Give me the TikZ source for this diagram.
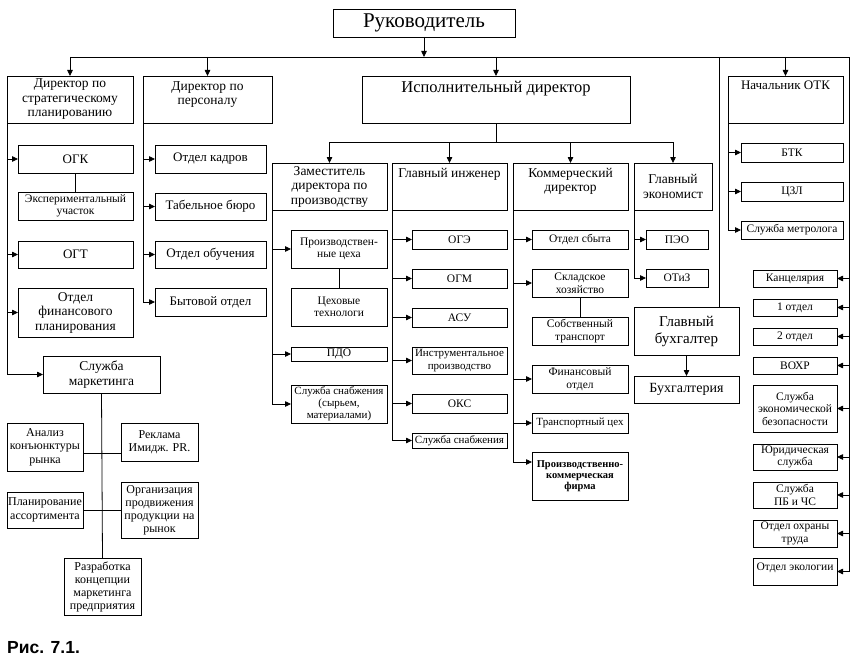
\documentclass[tikz,border=0pt]{standalone}
\usepackage{fontspec}
\setmainfont{Liberation Serif}
\newfontfamily\capfont{Liberation Sans}
\usetikzlibrary{arrows.meta}

\begin{document}
\begin{tikzpicture}[x=1pt, y=-1pt,
        box/.style={draw, line width=0.8pt, anchor=north west, inner sep=1pt, outer sep=0pt, align=center, font=\fontsize{13}{15}\selectfont},
        sz/.style 2 args={minimum width=#1pt, minimum height=#2pt},
        big/.style={font=\fontsize{13.5}{14.5}\selectfont},
        small/.style={font=\fontsize{11.5}{12.5}\selectfont},
        hdr/.style 2 args={label={[anchor=north, inner sep=5pt, align=center, font=#1]north:#2}},
        conn/.style={line width=0.8pt},
        arr/.style={line width=0.8pt, -{Triangle[length=6pt, width=5.5pt]}}
    ]
        \fill[white] (0,0) rectangle (857,661);
        \useasboundingbox (0,0) rectangle (857,661);
        % top level
        \node[box, sz={182}{28}, font=\fontsize{21}{23}\selectfont] (ruk) at (333,9) {Руководитель};
        \node[box, big, sz={126}{47}] (strat) at (7,76) {Директор по\\стратегическому\\планированию};
        \node[box, sz={129}{47}, hdr={\fontsize{13.5}{14.5}\selectfont}{Директор по\\персоналу}] (pers) at (143,76) {};
        \node[box, sz={268}{47}, hdr={\fontsize{16.5}{18}\selectfont}{Исполнительный директор}] (ispol) at (362,76) {};
        \node[box, sz={115}{47}, hdr={\fontsize{13}{14}\selectfont}{Начальник ОТК}] (otk) at (728,76) {};
        % strategy
        \node[box, sz={115}{28}] (ogk) at (18,145) {ОГК};
        \node[box, small, sz={115}{28}] (eksp) at (18,192) {Экспериментальный\\участок};
        \node[box, sz={115}{27}] (ogt) at (18,241) {ОГТ};
        \node[box, big, sz={115}{49}] (finpl) at (18,288) {Отдел\\финансового\\планирования};
        % personnel
        \node[box, sz={111}{28}] (kadr) at (155,145) {Отдел кадров};
        \node[box, sz={111}{27}] (tab) at (155,193) {Табельное бюро};
        \node[box, sz={111}{27}] (obuch) at (155,241) {Отдел обучения};
        \node[box, sz={111}{28}] (byt) at (155,288) {Бытовой отдел};
        % executive director
        \node[box, big, sz={115}{47}] (zam) at (272,163) {Заместитель\\директора по\\производству};
        \node[box, sz={115}{47}, hdr={\fontsize{13.5}{14.5}\selectfont}{Главный инженер}] (glin) at (392,163) {};
        \node[box, sz={115}{47}, hdr={\fontsize{13.5}{14.5}\selectfont}{Коммерческий\\директор}] (kom) at (513,163) {};
        \node[box, big, sz={78}{47}] (glek) at (634,163) {Главный\\экономист};
        \node[box, small, sz={96}{38}] (prc) at (291,230) {Производствен-\\ные цеха};
        \node[box, small, sz={96}{38}] (cehtech) at (291,288) {Цеховые\\технологи};
        \node[box, small, sz={96}{14}] (pdo) at (291,347) {ПДО};
        \node[box, sz={96}{38}, font=\fontsize{11}{12}\selectfont] (snab1) at (291,385) {Служба снабжения\\(сырьем,\\материалами)};
        \node[box, small, sz={95}{19}] (oge) at (412,230) {ОГЭ};
        \node[box, small, sz={95}{19}] (ogm) at (412,269) {ОГМ};
        \node[box, small, sz={95}{19}] (asu) at (412,308) {АСУ};
        \node[box, sz={95}{27}, font=\fontsize{11}{12.5}\selectfont] (instr) at (412,347) {Инструментальное\\производство};
        \node[box, small, sz={95}{19}] (oks) at (412,394) {ОКС};
        \node[box, sz={95}{15}, font=\fontsize{11}{12}\selectfont] (snab2) at (412,433) {Служба снабжения};
        \node[box, small, sz={96}{19}] (sbyt) at (532,230) {Отдел сбыта};
        \node[box, small, sz={96}{28}] (sklad) at (532,269) {Складское\\хозяйство};
        \node[box, small, sz={96}{28}] (transp) at (532,317) {Собственный\\транспорт};
        \node[box, small, sz={96}{28}] (fin) at (532,365) {Финансовый\\отдел};
        \node[box, sz={96}{20}, font=\fontsize{11}{12}\selectfont] (trceh) at (532,413) {Транспортный цех};
        \node[box, sz={96}{48}, font=\bfseries\fontsize{10.5}{11}\selectfont] (pkf) at (532,452) {Производственно-\\коммерческая\\фирма};
        \node[box, small, sz={62}{19}] (peo) at (646,230) {ПЭО};
        \node[box, small, sz={62}{18}] (otiz) at (646,269) {ОТиЗ};
        \node[box, sz={105}{48}, font=\fontsize{15}{17}\selectfont] (glbuh) at (634,307) {Главный\\бухгалтер};
        \node[box, sz={105}{27}, font=\fontsize{14}{15}\selectfont] (buh) at (634,376) {Бухгалтерия};
        % quality control
        \node[box, small, sz={102}{19}] (btk) at (741,143) {БТК};
        \node[box, small, sz={102}{19}] (czl) at (741,182) {ЦЗЛ};
        \node[box, small, sz={102}{18}] (metr) at (741,221) {Служба метролога};
        % right column
        \node[box, small, sz={84}{17}] (kanc) at (753,270) {Канцелярия};
        \node[box, small, sz={84}{17}] (otd1) at (753,299) {1 отдел};
        \node[box, small, sz={84}{17}] (otd2) at (753,328) {2 отдел};
        \node[box, small, sz={84}{17}] (vohr) at (753,357) {ВОХР};
        \node[box, small, sz={84}{47}] (ekbez) at (753,385) {Служба\\экономической\\безопасности};
        \node[box, small, sz={84}{26}] (yur) at (753,444) {Юридическая\\служба};
        \node[box, small, sz={84}{26}] (pbchs) at (753,482) {Служба\\ПБ и ЧС};
        \node[box, small, sz={84}{27}] (ohr) at (753,520) {Отдел охраны\\труда};
        \node[box, sz={84}{27}, hdr={\fontsize{11.5}{12.5}\selectfont}{Отдел экологии}] (ekol) at (753,558) {};
        % marketing
        \node[box, big, sz={117}{37}] (mark) at (43,356) {Служба\\маркетинга};
        \node[box, sz={76}{48}, font=\fontsize{12}{13.5}\selectfont] (anal) at (7,423) {Анализ\\конъюнктуры\\рынка};
        \node[box, sz={77}{38}, font=\fontsize{12}{13.5}\selectfont] (rekl) at (121,423) {Реклама\\Имидж. PR.};
        \node[box, sz={76}{36}, font=\fontsize{12}{13.5}\selectfont] (plan) at (7,492) {Планирование\\ассортимента};
        \node[box, sz={77}{56}, font=\fontsize{12}{13}\selectfont] (org) at (121,482) {Организация\\продвижения\\продукции на\\рынок};
        \node[box, sz={77}{57}, font=\fontsize{12}{13}\selectfont] (razr) at (64,558) {Разработка\\концепции\\маркетинга\\предприятия};
        \node[anchor=west, inner sep=0pt, font=\capfont\bfseries\fontsize{17.5}{20}\selectfont] (cap) at (7,648) {Рис. 7.1.};
        % connectors
        \coordinate (busR) at (849,57);
        \coordinate (bus2) at (0,142);
        \coordinate (buhtop) at ([xshift=33pt]glbuh.north);
        \coordinate (anmid) at ([yshift=-6pt]anal.east);
        \draw[arr] (ruk.south) -- (ruk.south |- busR);
        \draw[conn] (strat.north |- busR) -- (busR) -- (busR |- ekol.east);
        \foreach \n in {strat, pers, ispol, otk} \draw[arr] (\n.north |- busR) -- (\n.north);
        \draw[conn] (buhtop |- busR) -- (buhtop);
        \foreach \n in {kanc, otd1, otd2, vohr, ekbez, yur, pbchs, ohr, ekol} \draw[arr] (busR |- \n.east) -- (\n.east);
        \draw[arr] (strat.south west) |- (mark.west);
        \foreach \n in {ogk, ogt, finpl} \draw[arr] (strat.south west |- \n.west) -- (\n.west);
        \draw[conn] (ogk.south) -- (eksp.north);
        \draw[arr] (pers.south west) |- (byt.west);
        \foreach \n in {kadr, tab, obuch} \draw[arr] (pers.south west |- \n.west) -- (\n.west);
        \draw[conn] (ispol.south) -- (ispol.south |- bus2);
        \draw[conn] (zam.north |- bus2) -- (glek.north |- bus2);
        \foreach \n in {zam, glin, kom, glek} \draw[arr] (\n.north |- bus2) -- (\n.north);
        \draw[arr] (zam.south west) |- (snab1.west);
        \foreach \n in {prc, pdo} \draw[arr] (zam.south west |- \n.west) -- (\n.west);
        \draw[conn] (prc.south) -- (cehtech.north);
        \draw[arr] (glin.south west) |- (snab2.west);
        \foreach \n in {oge, ogm, asu, instr, oks} \draw[arr] (glin.south west |- \n.west) -- (\n.west);
        \draw[arr] (kom.south west) |- ([yshift=14pt]pkf.west);
        \foreach \n in {sbyt, sklad, fin, trceh} \draw[arr] (kom.south west |- \n.west) -- (\n.west);
        \draw[conn] (sklad.south) -- (transp.north);
        \draw[arr] (glek.south west) |- (otiz.west);
        \draw[arr] (glek.south west |- peo.west) -- (peo.west);
        \draw[arr] (glbuh.south) -- (buh.north);
        \draw[arr] (otk.south west) |- (metr.west);
        \foreach \n in {btk, czl} \draw[arr] (otk.south west |- \n.west) -- (\n.west);
        \draw[conn] (mark.south) -- (razr.north);
        \draw[conn] (anmid) -- (anmid -| rekl.west);
        \draw[conn] (plan.east) -- (plan.east -| org.west);
    \end{tikzpicture}
\end{document}
